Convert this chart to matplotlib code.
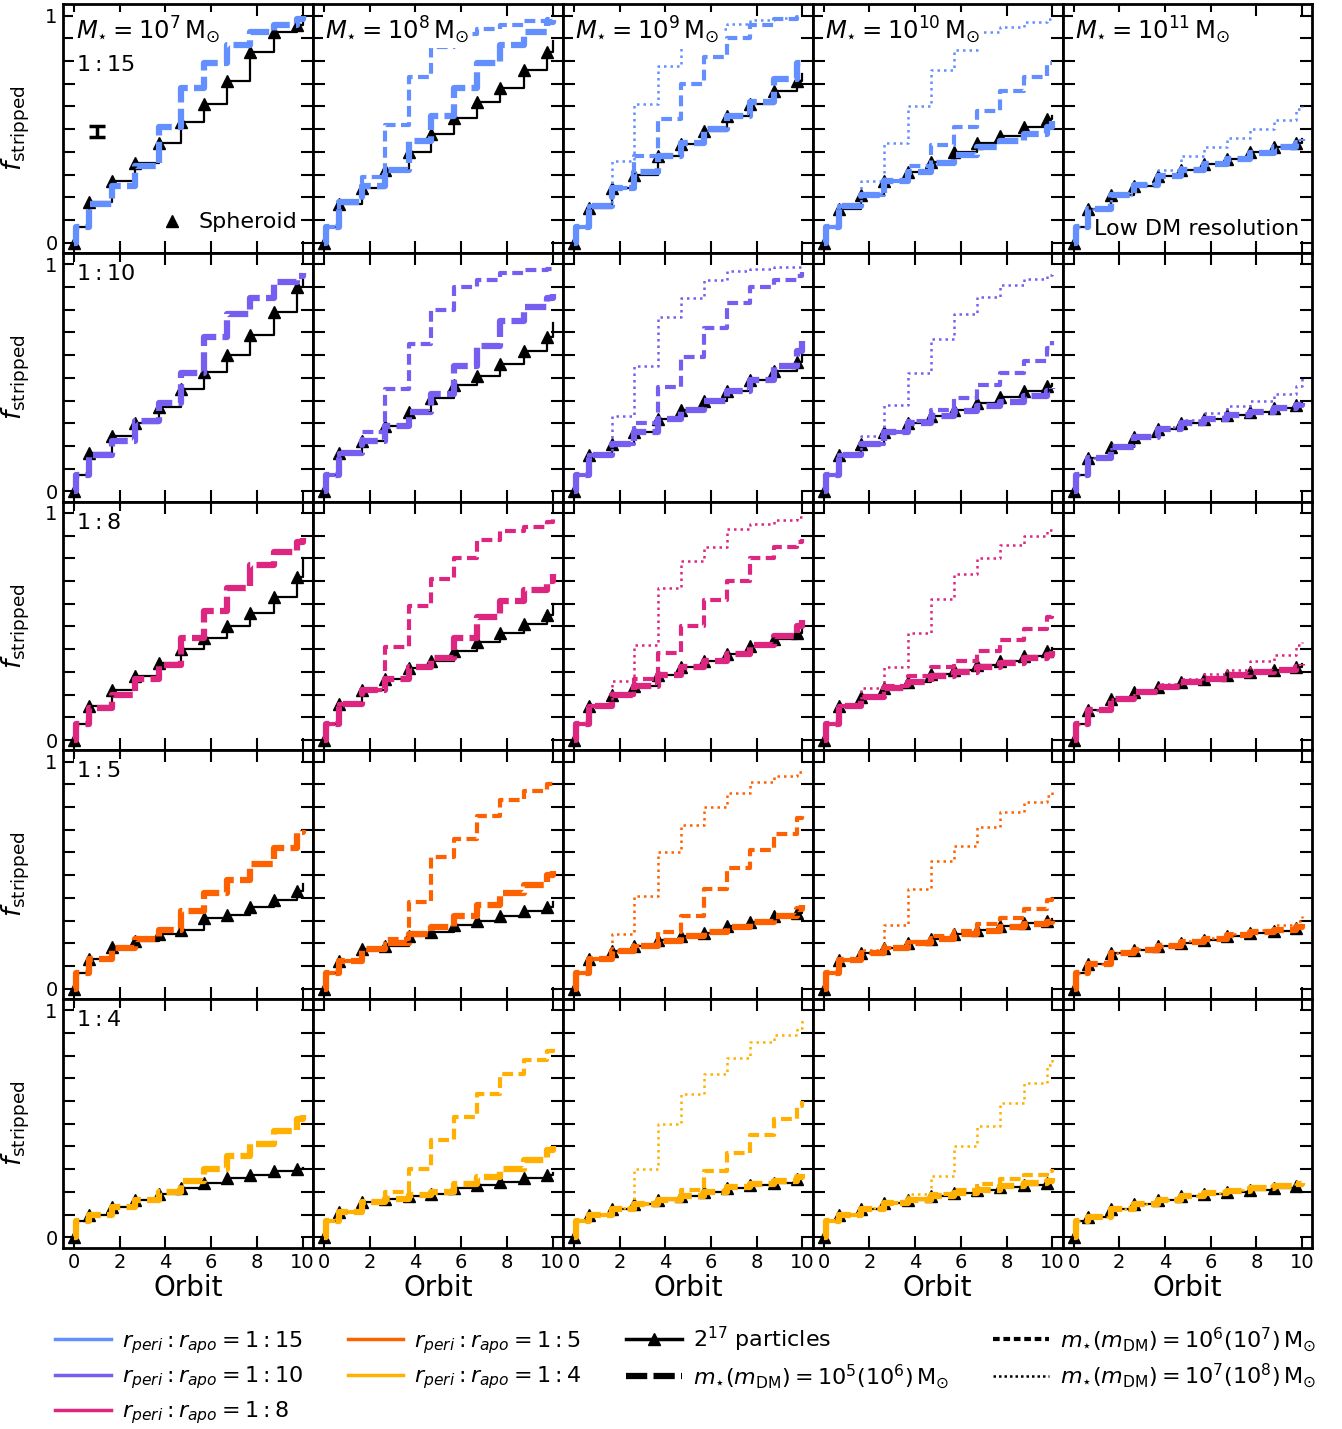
import numpy as np
import matplotlib.pyplot as plt
from matplotlib.lines import Line2D

# orbit times where the stripped fraction steps up (pericentre passages)
orbit = [0, 0.1, 0.65, 1.65, 2.65, 3.7, 4.7, 5.7, 6.7, 7.7, 8.75, 9.75, 10]

mass_exp = ['7', '8', '9', '10', '11']
ratio_txt = ['1:15', '1:10', '1:8', '1:5', '1:4']
colors = ['#648FFF', '#785EF0', '#DC267F', '#FE6100', '#FFB000']

# each list: one entry per stellar mass column (10^7 ... 10^11), None = no run
# --- r_peri : r_apo = 1:15
black_15 = [[0, 0.07, 0.18, 0.27, 0.35, 0.44, 0.53, 0.61, 0.71, 0.84, 0.93, 0.96, 0.99],
            [0, 0.07, 0.17, 0.24, 0.32, 0.40, 0.48, 0.55, 0.62, 0.68, 0.76, 0.84, 0.89],
            [0, 0.07, 0.155, 0.24, 0.30, 0.38, 0.435, 0.49, 0.56, 0.61, 0.67, 0.71, 0.745],
            [0, 0.07, 0.15, 0.21, 0.27, 0.31, 0.355, 0.40, 0.44, 0.47, 0.51, 0.545, 0.56],
            [0, 0.07, 0.15, 0.21, 0.25, 0.295, 0.32, 0.347, 0.37, 0.40, 0.42, 0.44, 0.455]]
thick_15 = [[0, 0.07, 0.17, 0.25, 0.34, 0.51, 0.68, 0.79, 0.87, 0.93, 0.96, 0.985, 1.0],
            [0, 0.07, 0.18, 0.25, 0.32, 0.45, 0.56, 0.68, 0.79, 0.87, 0.93, 0.97, 0.98],
            [0, 0.07, 0.16, 0.24, 0.31, 0.38, 0.44, 0.50, 0.56, 0.62, 0.72, 0.79, 0.81],
            [0, 0.07, 0.16, 0.21, 0.27, 0.31, 0.35, 0.385, 0.42, 0.45, 0.48, 0.51, 0.535],
            [0, 0.07, 0.15, 0.21, 0.255, 0.295, 0.32, 0.345, 0.37, 0.395, 0.42, 0.44, 0.455]]
dash_15 = [None,
           [0, 0.07, 0.18, 0.29, 0.52, 0.73, 0.86, 0.92, 0.94, 0.96, 0.975, 0.985, 0.99],
           [0, 0.07, 0.16, 0.24, 0.38, 0.545, 0.70, 0.82, 0.90, 0.96, 0.985, 0.995, 1.0],
           [0, 0.07, 0.16, 0.21, 0.27, 0.34, 0.43, 0.51, 0.58, 0.67, 0.73, 0.79, 0.79],
           None]
dot_15 = [None, None,
          [0, 0.07, 0.16, 0.36, 0.61, 0.78, 0.88, 0.94, 0.965, 0.98, 0.99, 1.0, 1.0],
          [0, 0.07, 0.16, 0.27, 0.44, 0.60, 0.76, 0.85, 0.93, 0.95, 0.97, 0.985, 0.99],
          [0, 0.07, 0.15, 0.21, 0.26, 0.32, 0.38, 0.42, 0.46, 0.50, 0.54, 0.59, 0.60]]

# --- 1:10
black_10 = [[0, 0.07, 0.17, 0.245, 0.30, 0.37, 0.45, 0.525, 0.60, 0.69, 0.79, 0.90, 0.93],
            [0, 0.07, 0.17, 0.22, 0.29, 0.35, 0.41, 0.47, 0.51, 0.56, 0.62, 0.68, 0.74],
            [0, 0.07, 0.16, 0.21, 0.26, 0.32, 0.36, 0.40, 0.44, 0.49, 0.53, 0.57, 0.60],
            [0, 0.07, 0.16, 0.21, 0.26, 0.30, 0.33, 0.36, 0.39, 0.415, 0.44, 0.465, 0.475],
            [0, 0.07, 0.145, 0.195, 0.24, 0.275, 0.30, 0.32, 0.335, 0.35, 0.365, 0.38, 0.39]]
thick_10 = [[0, 0.07, 0.16, 0.22, 0.31, 0.39, 0.52, 0.68, 0.78, 0.85, 0.92, 0.95, 0.96],
            [0, 0.07, 0.17, 0.22, 0.29, 0.35, 0.43, 0.55, 0.64, 0.75, 0.81, 0.85, 0.87],
            [0, 0.07, 0.16, 0.21, 0.26, 0.32, 0.36, 0.40, 0.44, 0.49, 0.55, 0.62, 0.66],
            [0, 0.07, 0.16, 0.21, 0.26, 0.30, 0.33, 0.355, 0.375, 0.395, 0.42, 0.44, 0.455],
            [0, 0.07, 0.145, 0.195, 0.24, 0.275, 0.30, 0.32, 0.335, 0.35, 0.365, 0.38, 0.39]]
dash_10 = [None,
           [0, 0.07, 0.17, 0.26, 0.45, 0.65, 0.80, 0.90, 0.93, 0.96, 0.975, 0.98, 0.985],
           [0, 0.07, 0.16, 0.21, 0.30, 0.46, 0.59, 0.72, 0.83, 0.90, 0.93, 0.95, 0.965],
           [0, 0.07, 0.16, 0.21, 0.26, 0.31, 0.36, 0.41, 0.47, 0.52, 0.575, 0.63, 0.66],
           None]
dot_10 = [None, None,
          [0, 0.07, 0.16, 0.33, 0.55, 0.77, 0.85, 0.93, 0.97, 0.98, 0.99, 0.99, 0.99],
          [0, 0.07, 0.16, 0.245, 0.38, 0.52, 0.67, 0.78, 0.855, 0.91, 0.935, 0.955, 0.97],
          [0, 0.07, 0.145, 0.195, 0.245, 0.285, 0.315, 0.345, 0.375, 0.40, 0.43, 0.465, 0.50]]

# --- 1:8
black_8 = [[0, 0.07, 0.15, 0.22, 0.28, 0.34, 0.40, 0.45, 0.50, 0.56, 0.63, 0.72, 0.80],
           [0, 0.07, 0.16, 0.22, 0.27, 0.315, 0.35, 0.39, 0.43, 0.47, 0.51, 0.55, 0.60],
           [0, 0.07, 0.15, 0.20, 0.24, 0.285, 0.32, 0.35, 0.38, 0.415, 0.445, 0.47, 0.49],
           [0, 0.07, 0.15, 0.19, 0.23, 0.255, 0.29, 0.31, 0.33, 0.35, 0.37, 0.39, 0.405],
           [0, 0.07, 0.13, 0.18, 0.21, 0.235, 0.255, 0.27, 0.285, 0.30, 0.31, 0.32, 0.335]]
thick_8 = [[0, 0.07, 0.14, 0.20, 0.27, 0.33, 0.45, 0.57, 0.67, 0.77, 0.83, 0.87, 0.89],
           [0, 0.07, 0.16, 0.22, 0.27, 0.32, 0.36, 0.45, 0.54, 0.61, 0.66, 0.70, 0.73],
           [0, 0.07, 0.15, 0.20, 0.24, 0.285, 0.32, 0.35, 0.38, 0.42, 0.46, 0.50, 0.53],
           [0, 0.07, 0.15, 0.19, 0.23, 0.255, 0.28, 0.30, 0.32, 0.34, 0.36, 0.375, 0.39],
           [0, 0.07, 0.13, 0.18, 0.21, 0.235, 0.255, 0.27, 0.285, 0.30, 0.31, 0.32, 0.335]]
dash_8 = [None,
          [0, 0.07, 0.16, 0.22, 0.41, 0.59, 0.71, 0.80, 0.88, 0.92, 0.94, 0.96, 0.975],
          [0, 0.07, 0.15, 0.20, 0.27, 0.385, 0.50, 0.615, 0.70, 0.80, 0.85, 0.87, 0.885],
          [0, 0.07, 0.15, 0.19, 0.24, 0.28, 0.32, 0.35, 0.39, 0.44, 0.49, 0.54, 0.565],
          None]
dot_8 = [None, None,
         [0, 0.07, 0.15, 0.26, 0.42, 0.67, 0.79, 0.85, 0.93, 0.95, 0.97, 0.98, 0.985],
         [0, 0.07, 0.15, 0.23, 0.32, 0.47, 0.62, 0.73, 0.80, 0.86, 0.90, 0.925, 0.935],
         [0, 0.07, 0.13, 0.18, 0.215, 0.245, 0.27, 0.29, 0.31, 0.35, 0.375, 0.42, 0.43]]

# --- 1:5
black_5 = [[0, 0.07, 0.13, 0.185, 0.21, 0.24, 0.26, 0.31, 0.325, 0.36, 0.39, 0.43, 0.46],
           [0, 0.07, 0.12, 0.175, 0.19, 0.23, 0.25, 0.28, 0.30, 0.32, 0.34, 0.36, 0.38],
           [0, 0.07, 0.13, 0.165, 0.19, 0.215, 0.23, 0.245, 0.275, 0.295, 0.32, 0.335, 0.35],
           [0, 0.07, 0.125, 0.155, 0.18, 0.20, 0.22, 0.24, 0.26, 0.275, 0.29, 0.30, 0.305],
           [0, 0.07, 0.11, 0.155, 0.17, 0.19, 0.20, 0.215, 0.23, 0.245, 0.255, 0.265, 0.28]]
thick_5 = [[0, 0.07, 0.13, 0.18, 0.22, 0.26, 0.34, 0.42, 0.48, 0.55, 0.62, 0.69, 0.70],
           [0, 0.07, 0.12, 0.175, 0.20, 0.24, 0.27, 0.32, 0.37, 0.42, 0.455, 0.50, 0.52],
           [0, 0.07, 0.13, 0.165, 0.19, 0.21, 0.23, 0.25, 0.27, 0.295, 0.32, 0.35, 0.37],
           [0, 0.07, 0.125, 0.155, 0.18, 0.20, 0.22, 0.24, 0.255, 0.27, 0.285, 0.295, 0.305],
           [0, 0.07, 0.11, 0.155, 0.17, 0.19, 0.205, 0.22, 0.235, 0.25, 0.26, 0.27, 0.285]]
dash_5 = [None,
          [0, 0.07, 0.12, 0.17, 0.22, 0.38, 0.58, 0.66, 0.76, 0.83, 0.87, 0.90, 0.92],
          [0, 0.07, 0.13, 0.165, 0.19, 0.25, 0.32, 0.44, 0.53, 0.61, 0.68, 0.75, 0.77],
          [0, 0.07, 0.125, 0.155, 0.18, 0.205, 0.23, 0.255, 0.285, 0.31, 0.35, 0.39, 0.42],
          None]
dot_5 = [None, None,
         [0, 0.07, 0.13, 0.24, 0.41, 0.60, 0.72, 0.80, 0.86, 0.91, 0.935, 0.955, 0.965],
         [0, 0.07, 0.125, 0.17, 0.28, 0.44, 0.56, 0.63, 0.71, 0.78, 0.82, 0.85, 0.865],
         [0, 0.07, 0.11, 0.155, 0.175, 0.19, 0.21, 0.225, 0.24, 0.26, 0.28, 0.30, 0.32]]

# --- 1:4
black_4 = [[0, 0.07, 0.10, 0.135, 0.165, 0.19, 0.215, 0.24, 0.26, 0.275, 0.29, 0.30, 0.305],
           [0, 0.07, 0.11, 0.155, 0.17, 0.18, 0.19, 0.215, 0.23, 0.245, 0.26, 0.275, 0.285],
           [0, 0.07, 0.10, 0.125, 0.145, 0.165, 0.18, 0.20, 0.215, 0.23, 0.24, 0.255, 0.27],
           [0, 0.07, 0.10, 0.125, 0.15, 0.165, 0.18, 0.195, 0.21, 0.22, 0.23, 0.24, 0.245],
           [0, 0.07, 0.09, 0.125, 0.145, 0.165, 0.18, 0.19, 0.20, 0.21, 0.215, 0.225, 0.23]]
thick_4 = [[0, 0.07, 0.10, 0.135, 0.165, 0.20, 0.25, 0.30, 0.36, 0.41, 0.47, 0.52, 0.54],
           [0, 0.07, 0.11, 0.155, 0.17, 0.185, 0.20, 0.235, 0.265, 0.30, 0.34, 0.385, 0.40],
           [0, 0.07, 0.10, 0.125, 0.145, 0.165, 0.18, 0.20, 0.22, 0.235, 0.25, 0.265, 0.28],
           [0, 0.07, 0.10, 0.125, 0.15, 0.165, 0.18, 0.195, 0.21, 0.225, 0.24, 0.25, 0.26],
           [0, 0.07, 0.09, 0.125, 0.145, 0.165, 0.18, 0.195, 0.205, 0.215, 0.225, 0.235, 0.24]]
dash_4 = [None,
          [0, 0.07, 0.11, 0.15, 0.20, 0.30, 0.43, 0.53, 0.63, 0.72, 0.78, 0.82, 0.845],
          [0, 0.07, 0.10, 0.125, 0.145, 0.17, 0.21, 0.29, 0.37, 0.45, 0.52, 0.58, 0.60],
          [0, 0.07, 0.10, 0.125, 0.15, 0.17, 0.19, 0.21, 0.235, 0.255, 0.275, 0.29, 0.30],
          None]
dot_4 = [None, None,
         [0, 0.07, 0.10, 0.13, 0.30, 0.50, 0.63, 0.72, 0.79, 0.86, 0.89, 0.92, 0.96],
         [0, 0.07, 0.10, 0.13, 0.155, 0.19, 0.27, 0.40, 0.49, 0.59, 0.68, 0.76, 0.79],
         [0, 0.07, 0.09, 0.125, 0.145, 0.165, 0.18, 0.195, 0.21, 0.225, 0.235, 0.245, 0.255]]

black = [black_15, black_10, black_8, black_5, black_4]
thick = [thick_15, thick_10, thick_8, thick_5, thick_4]
dash = [dash_15, dash_10, dash_8, dash_5, dash_4]
dot = [dot_15, dot_10, dot_8, dot_5, dot_4]

# error bar shown in the first panel
err_x, err_y, err_dy = 1.0, 0.49, 0.025

plt.rcParams['font.family'] = 'DejaVu Sans'
plt.rcParams['mathtext.fontset'] = 'dejavusans'

fig = plt.figure(figsize=(13.42, 14.29), dpi=100)
gs = fig.add_gridspec(5, 5, left=0.047, right=0.978, top=0.997, bottom=0.127,
                      wspace=0, hspace=0)

thick_dash = (0, (3.4, 1.0))
mid_dash = (0, (2.6, 1.3))
mark_idx = [0, 2, 3, 4, 5, 6, 7, 8, 9, 10, 11]

for r in range(5):
    for c in range(5):
        ax = fig.add_subplot(gs[r, c])
        col = colors[r]
        ax.plot(orbit, black[r][c], color='k', lw=1.6, drawstyle='steps-post',
                marker='^', ms=8.5, markevery=mark_idx, zorder=2)
        ax.plot(orbit, thick[r][c], color=col, lw=4.5, ls=thick_dash,
                drawstyle='steps-post', zorder=3)
        if dash[r][c] is not None:
            ax.plot(orbit, dash[r][c], color=col, lw=3.0, ls=mid_dash,
                    drawstyle='steps-post', zorder=3)
        if dot[r][c] is not None:
            ax.plot(orbit, dot[r][c], color=col, lw=1.8, ls=(0, (1, 1.6)),
                    drawstyle='steps-post', zorder=3)

        ax.set_xlim(-0.48, 10.45)
        ax.set_ylim(-0.045, 1.05)
        ax.set_xticks(np.arange(0, 11, 2))
        yt = np.round(np.arange(0, 1.01, 0.1), 1)
        ax.set_yticks(yt)
        ax.set_yticklabels(['0'] + [''] * 9 + ['1'])
        ax.tick_params(direction='in', top=True, right=True, length=8.5,
                       width=1.5, labelsize=14, pad=4)
        for sp in ax.spines.values():
            sp.set_linewidth(2.0)

        if c != 0:
            ax.tick_params(labelleft=False)
        else:
            ax.set_ylabel(r'$f_{\rm stripped}$', fontsize=19)
            ax.yaxis.set_label_coords(-0.125, 0.5)
        if r != 4:
            ax.tick_params(labelbottom=False)
        else:
            ax.set_xlabel('Orbit', fontsize=20)
            ax.xaxis.set_label_coords(0.5, -0.105)

        if r == 0:
            ax.text(0.05, 0.96, r'$M_{\star} = 10^{%s}\,{\rm M}_{\odot}$' % mass_exp[c],
                    transform=ax.transAxes, ha='left', va='top', fontsize=17.5, zorder=6,
                    bbox=dict(facecolor='white', edgecolor='none', pad=1.5))
        if c == 0:
            ypos = 0.795 if r == 0 else 0.955
            ax.text(0.05, ypos, r'$%s$' % ratio_txt[r], transform=ax.transAxes,
                    ha='left', va='top', fontsize=16, zorder=6,
                    bbox=dict(facecolor='white', edgecolor='none', pad=1.5))

        if r == 0 and c == 0:
            ax.errorbar([err_x], [err_y], yerr=[err_dy], color='k', lw=2.5,
                        capsize=6, capthick=2.5, zorder=4)
            ax.legend(handles=[Line2D([], [], color='k', marker='^', ls='none', ms=9)],
                      labels=['Spheroid'], loc='lower right', frameon=False,
                      fontsize=16, handletextpad=0.2, borderaxespad=0.3,
                      bbox_to_anchor=(1.0, 0.02))
        if r == 0 and c == 4:
            ax.text(0.945, 0.095, 'Low DM resolution', transform=ax.transAxes,
                    ha='right', va='center', fontsize=16, zorder=6,
                    bbox=dict(facecolor='white', edgecolor='none', pad=1.5))

handles = [Line2D([], [], color=cc, lw=2.5) for cc in colors]
labels = [r'$r_{peri} : r_{apo} = %s$' % t for t in ratio_txt]
handles += [Line2D([], [], color='k', lw=2.5, marker='^', ms=9),
            Line2D([], [], color='k', lw=4.5, ls=thick_dash),
            Line2D([], [], color='k', lw=3.0, ls=(0, (1.6, 0.9))),
            Line2D([], [], color='k', lw=1.8, ls=(0, (1, 1.2)))]
labels += [r'$2^{17}$ particles',
           r'$m_{\star}(m_{\rm DM}) = 10^{5}(10^{6})\,{\rm M}_{\odot}$',
           r'$m_{\star}(m_{\rm DM}) = 10^{6}(10^{7})\,{\rm M}_{\odot}$',
           r'$m_{\star}(m_{\rm DM}) = 10^{7}(10^{8})\,{\rm M}_{\odot}$']
fig.legend(handles, labels, loc='upper center', bbox_to_anchor=(0.511, 0.087),
           ncol=4, frameon=False, fontsize=16, columnspacing=2.0,
           handlelength=2.5, handletextpad=0.5, labelspacing=0.38)

fig.savefig('out.png', dpi=100)
